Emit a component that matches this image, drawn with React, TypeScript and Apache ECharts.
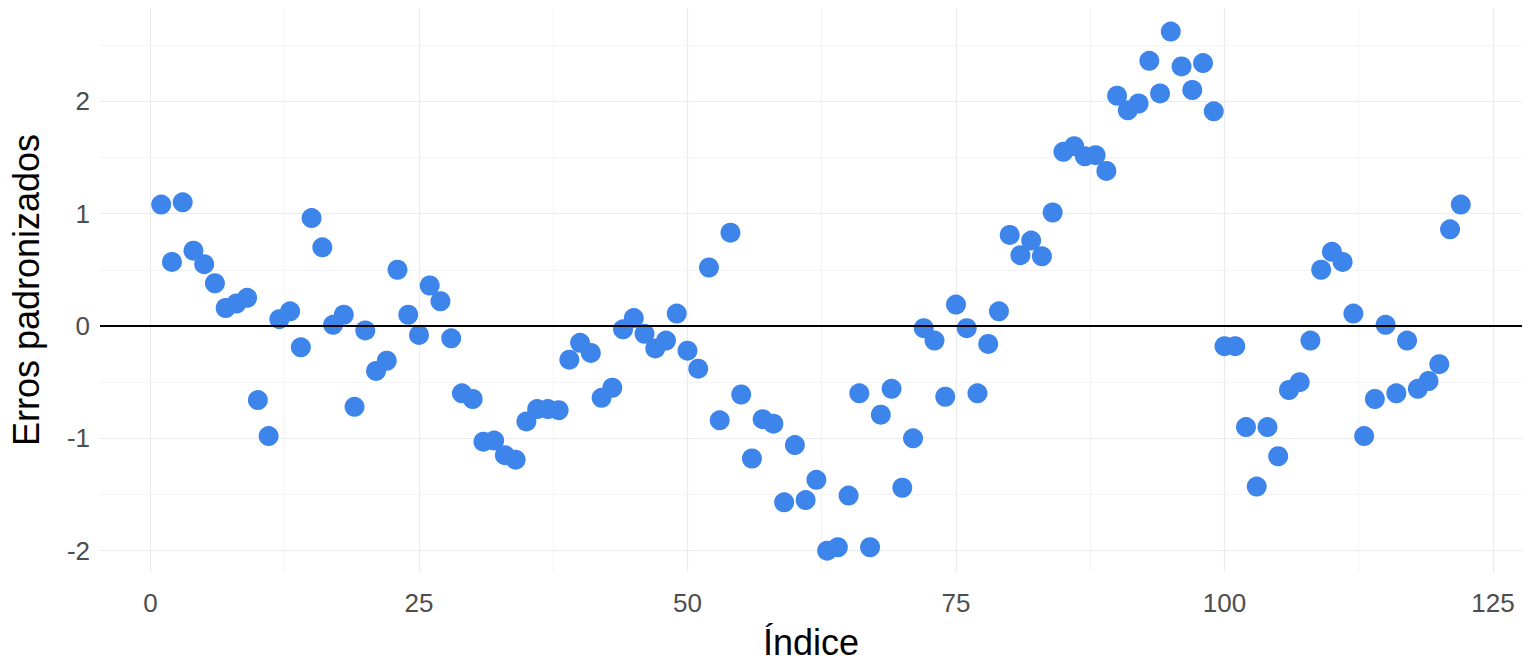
import React, { useEffect, useRef } from 'react';
import * as echarts from 'echarts';

const residuals: number[] = [
  1.08, 0.57, 1.10, 0.67, 0.55, 0.38, 0.16, 0.20, 0.25, -0.66,
  -0.98, 0.06, 0.13, -0.19, 0.96, 0.70, 0.01, 0.10, -0.72, -0.04,
  -0.40, -0.31, 0.50, 0.10, -0.08, 0.36, 0.22, -0.11, -0.60, -0.65,
  -1.03, -1.02, -1.15, -1.19, -0.85, -0.74, -0.74, -0.75, -0.30, -0.15,
  -0.24, -0.64, -0.55, -0.03, 0.07, -0.07, -0.20, -0.13, 0.11, -0.22,
  -0.38, 0.52, -0.84, 0.83, -0.61, -1.18, -0.83, -0.87, -1.57, -1.06,
  -1.55, -1.37, -2.00, -1.97, -1.51, -0.60, -1.97, -0.79, -0.56, -1.44,
  -1.00, -0.02, -0.13, -0.63, 0.19, -0.02, -0.60, -0.16, 0.13, 0.81,
  0.63, 0.76, 0.62, 1.01, 1.55, 1.60, 1.51, 1.52, 1.38, 2.05,
  1.92, 1.98, 2.36, 2.07, 2.62, 2.31, 2.10, 2.34, 1.91, -0.18,
  -0.18, -0.90, -1.43, -0.90, -1.16, -0.57, -0.50, -0.13, 0.50, 0.66,
  0.57, 0.11, -0.98, -0.65, 0.01, -0.60, -0.13, -0.56, -0.49, -0.34,
  0.86, 1.08,
];

const xTicks = [0, 25, 50, 75, 100, 125];
const yTicks = [-2, -1, 0, 1, 2];
const xMinor = [12.5, 37.5, 62.5, 87.5, 112.5];
const yMinor = [-1.5, -0.5, 0.5, 1.5, 2.5];

const App: React.FC = () => {
  const chartRef = useRef<HTMLDivElement>(null);

  useEffect(() => {
    if (!chartRef.current) return;
    const chart = echarts.init(chartRef.current, undefined, { renderer: 'svg' });

    const major = { color: '#ebebeb', width: 1.2, type: 'solid' as const };
    const minor = { color: '#f4f4f4', width: 1, type: 'solid' as const };
    const gridLines = [
      ...xTicks.map((v) => ({ xAxis: v, lineStyle: major })),
      ...xMinor.map((v) => ({ xAxis: v, lineStyle: minor })),
      ...yTicks.map((v) => ({ yAxis: v, lineStyle: major })),
      ...yMinor.map((v) => ({ yAxis: v, lineStyle: minor })),
    ];

    chart.setOption({
      animation: false,
      grid: { left: 90, right: 7, top: 8, bottom: 96 },
      xAxis: {
        type: 'value',
        min: -4.7,
        max: 127.7,
        name: 'Índice',
        nameLocation: 'middle',
        nameGap: 52,
        nameTextStyle: { fontSize: 36, color: '#000', fontFamily: 'Liberation Sans, Arial' },
        axisLine: { show: false },
        axisTick: { show: false },
        splitLine: { show: false },
        axisLabel: {
          customValues: xTicks,
          fontSize: 26,
          color: '#4d4d4d',
          margin: 18,
          fontFamily: 'Liberation Sans, Arial',
        },
      },
      yAxis: {
        type: 'value',
        min: -2.19,
        max: 2.83,
        name: 'Erros padronizados',
        nameLocation: 'middle',
        nameGap: 56,
        nameTextStyle: { fontSize: 36, color: '#000', fontFamily: 'Liberation Sans, Arial' },
        axisLine: { show: false },
        axisTick: { show: false },
        splitLine: { show: false },
        axisLabel: {
          customValues: yTicks,
          fontSize: 26,
          color: '#4d4d4d',
          margin: 10,
          fontFamily: 'Liberation Sans, Arial',
        },
      },
      series: [
        {
          type: 'scatter',
          data: residuals.map((v, i) => [i + 1, v]),
          symbolSize: 20,
          itemStyle: { color: '#3d85ea', opacity: 1 },
          z: 3,
          markLine: {
            silent: true,
            symbol: 'none',
            label: { show: false },
            z: 1,
            data: gridLines,
          },
        },
        {
          type: 'scatter',
          data: [],
          z: 2,
          markLine: {
            silent: true,
            symbol: 'none',
            label: { show: false },
            data: [{ yAxis: 0, lineStyle: { color: '#000', width: 2, type: 'solid' } }],
          },
        },
      ],
    });

    return () => {
      chart.dispose();
    };
  }, []);

  return (
    <div
      ref={chartRef}
      style={{ position: 'absolute', left: 0, top: 0, width: '1529px', height: '668px' }}
    />
  );
};

export default App;
